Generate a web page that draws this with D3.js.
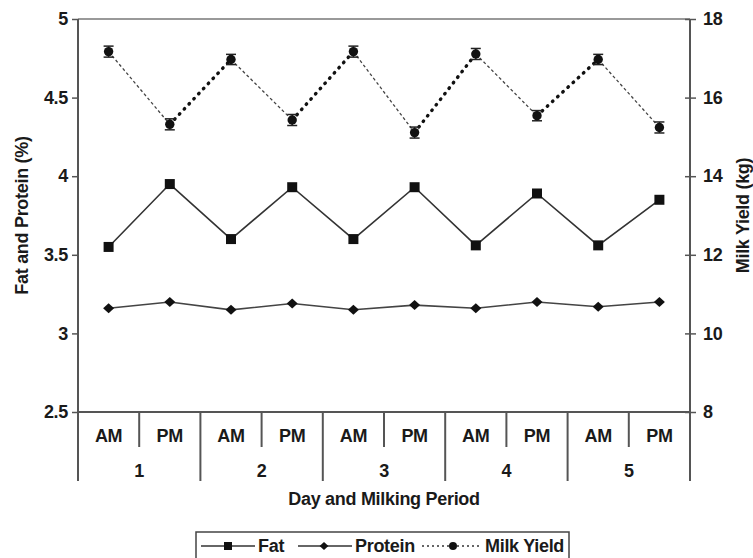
<!DOCTYPE html>
<html>
<head>
<meta charset="utf-8">
<script src="https://cdn.jsdelivr.net/npm/d3@7"></script>
<style>
  body { margin: 0; background: #fff; }
  svg text { font-family: "Liberation Sans", Arial, sans-serif; font-weight: bold; fill: #1a1a1a; letter-spacing: -0.3px; }
</style>
</head>
<body>
<svg id="chart" width="753" height="558"></svg>
<script>
// values
const periods = ["AM", "PM", "AM", "PM", "AM", "PM", "AM", "PM", "AM", "PM"];
const days = ["1", "2", "3", "4", "5"];
const fat = [3.55, 3.95, 3.60, 3.93, 3.60, 3.93, 3.56, 3.89, 3.56, 3.85];
const protein = [3.16, 3.20, 3.15, 3.19, 3.15, 3.18, 3.16, 3.20, 3.17, 3.20];
const milkYield = [17.17, 15.32, 16.97, 15.43, 17.17, 15.11, 17.11, 15.54, 16.97, 15.24];
const milkSE = [0.14, 0.14, 0.13, 0.14, 0.14, 0.14, 0.14, 0.13, 0.13, 0.14];
const leftTicks = [2.5, 3, 3.5, 4, 4.5, 5];
const rightTicks = [8, 10, 12, 14, 16, 18];

const plotLeft = 78, plotRight = 690, plotTop = 19, plotBottom = 412;
const axisColor = "#555";
const fs = "18px";

var svg = d3.select("#chart");

var x = d3.scaleBand().domain(d3.range(periods.length)).range([plotLeft, plotRight]);
var dayX = d3.scaleBand().domain(days).range([plotLeft, plotRight]);
var y = d3.scaleLinear().domain([2.5, 5]).range([plotBottom, plotTop]);
var y2 = d3.scaleLinear().domain([8, 18]).range([plotBottom, plotTop]);
var cx = i => x(i) + x.bandwidth() / 2;

// frame top
svg.append("line")
  .attr("x1", plotLeft).attr("x2", plotRight).attr("y1", plotTop).attr("y2", plotTop)
  .attr("stroke", "#777").attr("stroke-width", 1.5);

// left axis
var gl = svg.append("g")
  .attr("transform", "translate(" + plotLeft + ",0)")
  .call(d3.axisLeft(y).tickValues(leftTicks).tickSize(6).tickPadding(4).tickFormat(d3.format("")));
gl.select(".domain").remove();
gl.selectAll(".tick line").attr("stroke", axisColor).attr("stroke-width", 1.5);
gl.selectAll(".tick text").style("font-size", fs).attr("font-family", null);

// right axis
var gr = svg.append("g")
  .attr("transform", "translate(" + plotRight + ",0)")
  .call(d3.axisRight(y2).tickValues(rightTicks).tickSize(6).tickPadding(7));
gr.select(".domain").remove();
gr.selectAll(".tick line").attr("x1", -5).attr("stroke", axisColor).attr("stroke-width", 1.5);
gr.selectAll(".tick text").style("font-size", fs).attr("font-family", null);

// vertical axis lines run down through the category rows
[plotLeft, plotRight].forEach(xx => {
  svg.append("line")
    .attr("x1", xx).attr("x2", xx).attr("y1", plotTop).attr("y2", 481)
    .attr("stroke", axisColor).attr("stroke-width", 2);
});
svg.append("line")
  .attr("x1", plotLeft).attr("x2", plotRight).attr("y1", plotBottom).attr("y2", plotBottom)
  .attr("stroke", axisColor).attr("stroke-width", 2);

// category separators
d3.range(1, periods.length).forEach(i => {
  var isDay = i % 2 == 0;
  svg.append("line")
    .attr("x1", x(i)).attr("x2", x(i))
    .attr("y1", plotBottom).attr("y2", isDay ? 481 : 447)
    .attr("stroke", axisColor).attr("stroke-width", 2);
});

svg.append("g").selectAll("text").data(periods).join("text")
  .attr("x", (d, i) => cx(i)).attr("y", 442)
  .attr("text-anchor", "middle").style("font-size", fs)
  .text(d => d);

svg.append("g").selectAll("text").data(days).join("text")
  .attr("x", d => dayX(d) + dayX.bandwidth() / 2).attr("y", 477)
  .attr("text-anchor", "middle").style("font-size", fs)
  .text(d => d);

// axis titles
svg.append("text")
  .attr("x", (plotLeft + plotRight) / 2).attr("y", 505)
  .attr("text-anchor", "middle").style("font-size", fs)
  .text("Day and Milking Period");

svg.append("text")
  .attr("transform", "translate(28," + ((plotTop + plotBottom) / 2) + ") rotate(-90)")
  .attr("text-anchor", "middle").style("font-size", fs)
  .text("Fat and Protein (%)");

svg.append("text")
  .attr("transform", "translate(749," + ((plotTop + plotBottom) / 2) + ") rotate(-90)")
  .attr("text-anchor", "middle").style("font-size", fs)
  .text("Milk Yield (kg)");

// series
var diamond = "M0,-5L5.5,0L0,5L-5.5,0Z";

var pctLine = d3.line().x((d, i) => cx(i)).y(d => y(d));
svg.append("path").datum(fat)
  .attr("d", pctLine).attr("fill", "none")
  .attr("stroke", "#333").attr("stroke-width", 1.6);

svg.append("path").datum(protein)
  .attr("d", pctLine).attr("fill", "none")
  .attr("stroke", "#444").attr("stroke-width", 1.6);

// milk yield: drawn segment by segment, falling ones thin dashes, rising ones heavy dots
d3.range(milkYield.length - 1).forEach(i => {
  var falling = milkYield[i + 1] < milkYield[i];
  svg.append("line")
    .attr("x1", cx(i)).attr("y1", y2(milkYield[i]))
    .attr("x2", cx(i + 1)).attr("y2", y2(milkYield[i + 1]))
    .attr("stroke", falling ? "#444" : "#111")
    .attr("stroke-width", falling ? 1.3 : 3.4)
    .attr("stroke-linecap", falling ? "butt" : "round")
    .attr("stroke-dasharray", falling ? "3,2.5" : "0.6,6.4");
});

svg.append("g").selectAll("path").data(fat).join("path")
  .attr("transform", (d, i) => "translate(" + cx(i) + "," + y(d) + ")")
  .attr("d", d3.symbol(d3.symbolSquare, 100)).attr("fill", "#111");

svg.append("g").selectAll("path").data(protein).join("path")
  .attr("transform", (d, i) => "translate(" + cx(i) + "," + y(d) + ")")
  .attr("d", diamond).attr("fill", "#111");

var eb = svg.append("g").selectAll("g").data(milkYield).join("g")
  .attr("stroke", "#222").attr("stroke-width", 1.5);
eb.append("line")
  .attr("x1", (d, i) => cx(i)).attr("x2", (d, i) => cx(i))
  .attr("y1", (d, i) => y2(d - milkSE[i])).attr("y2", (d, i) => y2(d + milkSE[i]));
eb.append("line")
  .attr("x1", (d, i) => cx(i) - 5).attr("x2", (d, i) => cx(i) + 5)
  .attr("y1", (d, i) => y2(d + milkSE[i])).attr("y2", (d, i) => y2(d + milkSE[i]));
eb.append("line")
  .attr("x1", (d, i) => cx(i) - 5).attr("x2", (d, i) => cx(i) + 5)
  .attr("y1", (d, i) => y2(d - milkSE[i])).attr("y2", (d, i) => y2(d - milkSE[i]));

svg.append("g").selectAll("circle").data(milkYield).join("circle")
  .attr("cx", (d, i) => cx(i)).attr("cy", d => y2(d))
  .attr("r", 4.7).attr("fill", "#111");

// legend
var lg = svg.append("g");
lg.append("rect")
  .attr("x", 196).attr("y", 532).attr("width", 373).attr("height", 40)
  .attr("fill", "#fff").attr("stroke", "#444").attr("stroke-width", 1.5);

var legendY = 546;
lg.append("line").attr("x1", 201).attr("x2", 255).attr("y1", legendY).attr("y2", legendY)
  .attr("stroke", "#333").attr("stroke-width", 1.6);
lg.append("path").attr("transform", "translate(228," + legendY + ")")
  .attr("d", d3.symbol(d3.symbolSquare, 64)).attr("fill", "#111");
lg.append("text").attr("x", 258).attr("y", 552).style("font-size", fs).text("Fat");

lg.append("line").attr("x1", 298).attr("x2", 352).attr("y1", legendY).attr("y2", legendY)
  .attr("stroke", "#333").attr("stroke-width", 1.6);
lg.append("path").attr("transform", "translate(324," + legendY + ") scale(0.8)")
  .attr("d", diamond).attr("fill", "#111");
lg.append("text").attr("x", 355).attr("y", 552).style("font-size", fs).text("Protein");

lg.append("line").attr("x1", 422).attr("x2", 482).attr("y1", legendY).attr("y2", legendY)
  .attr("stroke", "#333").attr("stroke-width", 1.6).attr("stroke-dasharray", "2,3");
lg.append("circle").attr("cx", 453).attr("cy", legendY).attr("r", 4).attr("fill", "#111");
lg.append("text").attr("x", 485).attr("y", 552).style("font-size", fs).text("Milk Yield");
</script>
</body>
</html>
